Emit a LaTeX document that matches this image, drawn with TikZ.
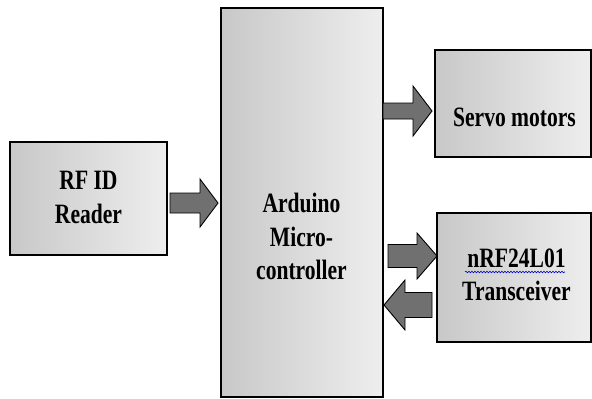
\documentclass[tikz,border=0pt]{standalone}
\usepackage{fontspec}
\setmainfont{Liberation Serif}
\newfontfamily\labfont[FakeStretch=0.77]{Liberation Serif}
\usetikzlibrary{calc,decorations.pathmorphing}
\definecolor{boxL}{HTML}{C8C8C8}
\definecolor{boxR}{HTML}{EEEEEE}
\definecolor{arrowgray}{HTML}{707070}
\newcommand\blockarrow[5]{%
  \draw[barrow] let \p1=(#1), \p2=(#2), \n1={#5*sign(\x2-\x1)} in
    ({\x1},{\y1-#3}) -- ({\x2-(\n1)},{\y1-#3}) -- ({\x2-(\n1)},{\y1-#4}) --
    ({\x2},{\y1}) -- ({\x2-(\n1)},{\y1+#4}) -- ({\x2-(\n1)},{\y1+#3}) --
    ({\x1},{\y1+#3}) -- cycle;}
\begin{document}
\begin{tikzpicture}[x=1pt,y=-1pt,
  box/.style={draw=black, line width=1.8pt, left color=boxL, right color=boxR, inner sep=0pt, outer sep=0pt},
  labeltext/.style={font=\labfont\bfseries\fontsize{28}{33.5}\selectfont, align=center, inner sep=0pt},
  barrow/.style={draw=black, line width=0.9pt, fill=arrowgray, line join=miter}]
\useasboundingbox (0,0) rectangle (592,399);
% boxes
\node[box, minimum width=157pt, minimum height=113pt] (rfid) at (88.5,198.5) {};
\node[box, minimum width=162pt, minimum height=389pt] (mcu) at (302,202.5) {};
\node[box, minimum width=156pt, minimum height=107pt] (servo) at (513,103.5) {};
\node[box, minimum width=154pt, minimum height=129pt] (nrf) at (514,277.5) {};
% texts
\node[labeltext] (rfidtxt) at (88.5,197.5) {RF ID\\Reader};
\node[labeltext] (mcutxt) at (301.5,236.5) {Arduino\\Micro-\\controller};
\node[labeltext] (servotxt) at (514.5,117) {Servo motors};
\node[labeltext] (nrftxt) at (516.5,275) {nRF24L01\\Transceiver};
\draw[blue!80!black, line width=0.6pt, decorate, decoration={snake, amplitude=0.8pt, segment length=3pt}] (465,272) -- (565,272);
% arrow ends
\coordinate (a1s) at (170,203);
\coordinate (a1e) at (218,203);
\coordinate (a2s) at (383,111);
\coordinate (a2e) at (432,111);
\coordinate (a3s) at (388,256);
\coordinate (a3e) at (437,256);
\coordinate (a4s) at (432,305);
\coordinate (a4e) at (384,305);
\blockarrow{a1s}{a1e}{10}{24}{18}
\blockarrow{a2s}{a2e}{8}{25}{19}
\blockarrow{a3s}{a3e}{11.5}{23}{20}
\blockarrow{a4s}{a4e}{12.5}{25}{21}
\end{tikzpicture}
\end{document}
